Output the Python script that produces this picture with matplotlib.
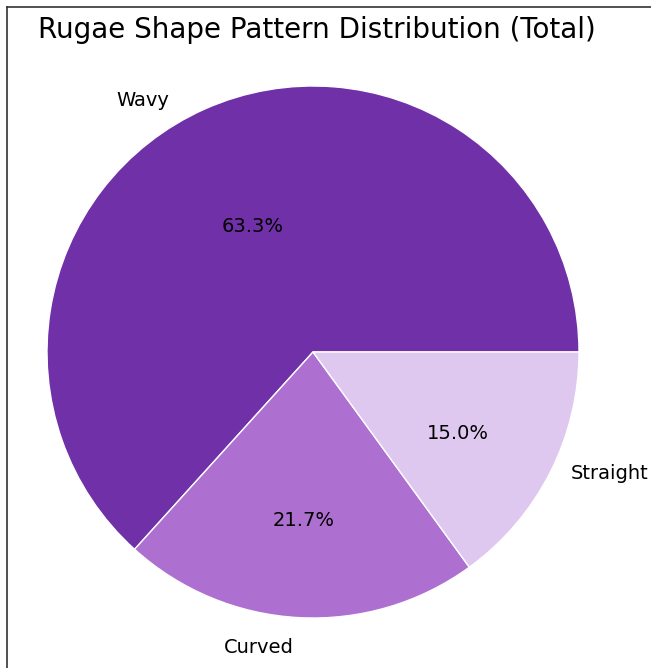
import matplotlib
matplotlib.use('Agg')
import matplotlib.pyplot as plt
from matplotlib.lines import Line2D

labels = ['Wavy', 'Curved', 'Straight']
counts = [63.3, 21.7, 15.0]
colors = ['#7030a8', '#ad6fd0', '#dfc8f0']

W, H = 651, 668
fig = plt.figure(figsize=(W/100, H/100), dpi=100)

# pie centre and radius in pixels
cx, cy, r = 313, 352, 266
lim = 1.25
side = 2*lim*r
ax = fig.add_axes([(cx - side/2)/W, (H - cy - side/2)/H, side/W, side/H])
wedges, texts, autotexts = ax.pie(counts, labels=labels, colors=colors, autopct='%1.1f%%',
       startangle=0, wedgeprops={'edgecolor': 'white', 'linewidth': 1},
       textprops={'fontsize': 14})
ax.set_xlim(-lim, lim)
ax.set_ylim(-lim, lim)
ax.set_aspect('equal')
ax.axis('off')

# small nudges (pixels, x right / y down) to sit labels like the original
label_nudge = [(-25, 16), (-4, 3), (-3, -11)]
pct_nudge = [(4, 20), (-1, 9), (3, 9)]
for t, (dx, dy) in zip(list(texts) + list(autotexts), label_nudge + pct_nudge):
    x, y = t.get_position()
    t.set_position((x + dx/r, y - dy/r))

fig.text(317/W, 1 - 30/H, 'Rugae Shape Pattern Distribution (Total)',
         ha='center', va='center', fontsize=20)

# screenshot border (left and top only)
fig.add_artist(Line2D([7/W, 7/W], [0, 1 - 7/H], color='#333333', lw=1.2))
fig.add_artist(Line2D([7/W, 1], [1 - 7/H, 1 - 7/H], color='#333333', lw=1.2))

fig.savefig('out.png', dpi=100)
